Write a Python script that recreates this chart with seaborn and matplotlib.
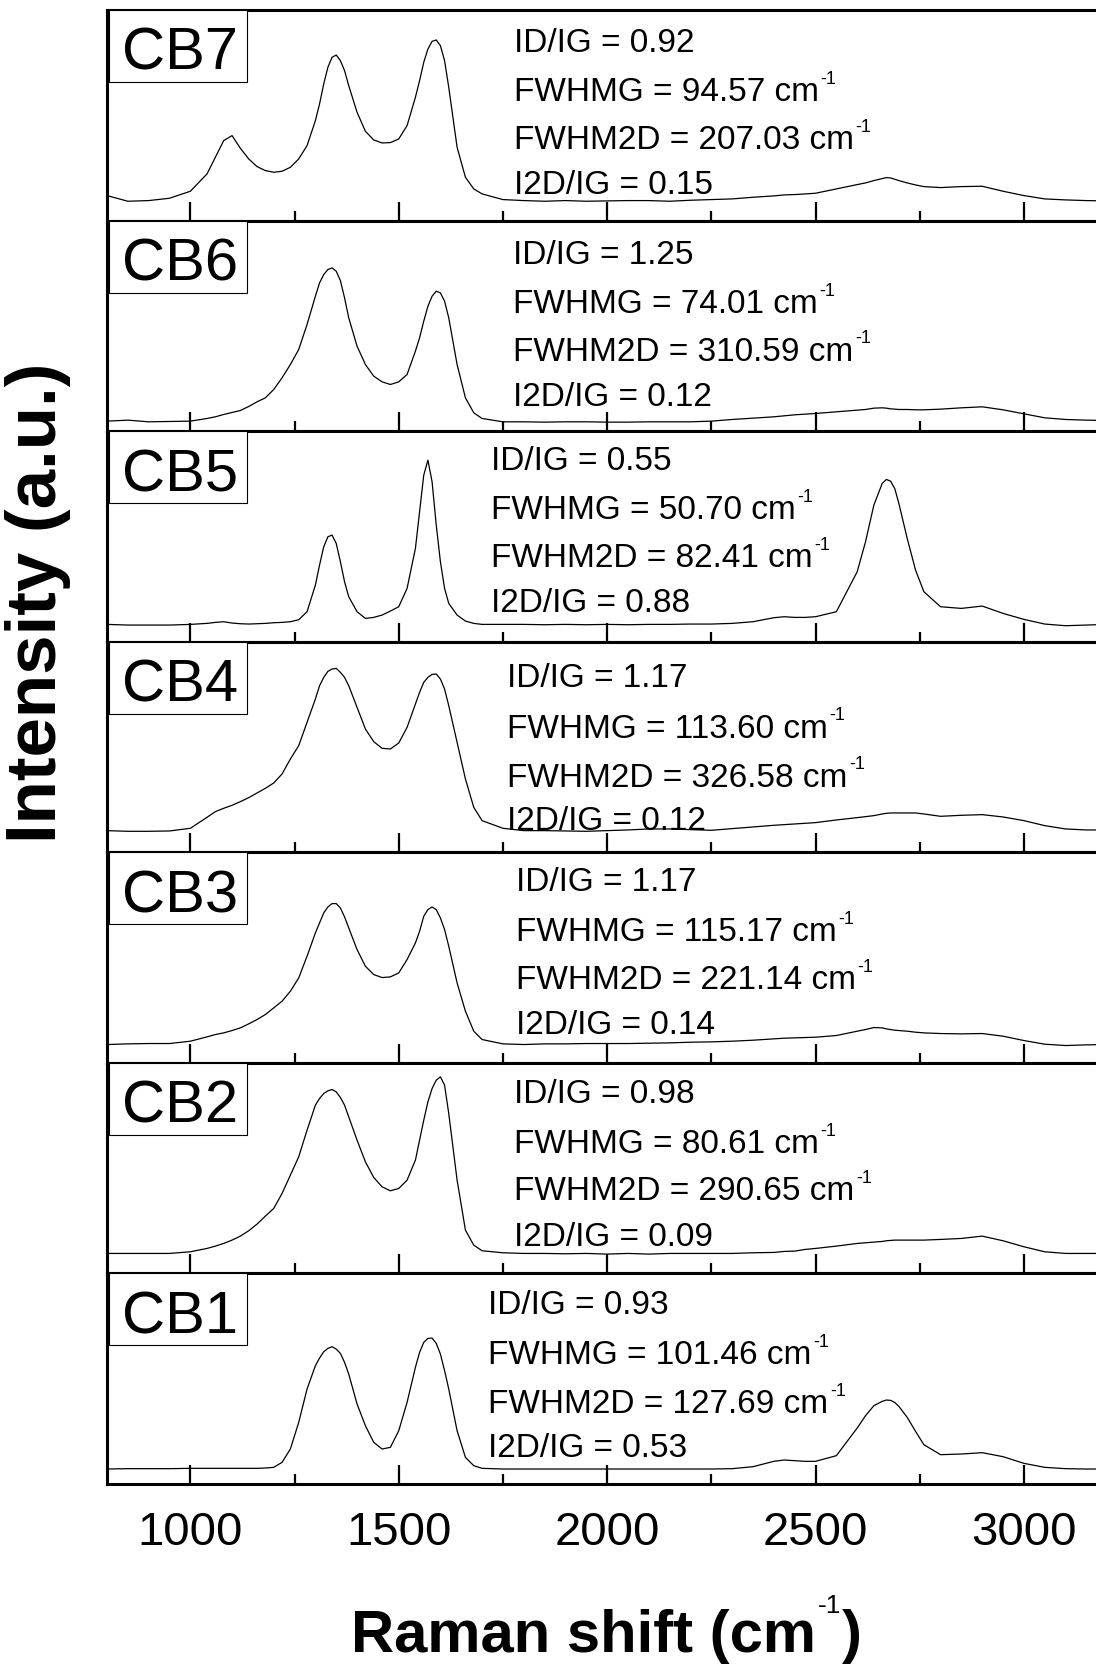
import matplotlib
matplotlib.use("Agg")
import matplotlib.pyplot as plt
import matplotlib.transforms as mtransforms
from matplotlib.patches import Rectangle
from matplotlib.ticker import MultipleLocator
import pandas as pd
import seaborn as sns

# Raman shift grid (cm^-1) shared by all spectra
raman_shift = [800, 850, 900, 950, 1000,
               1040, 1060, 1080, 1100, 1120, 1140, 1160, 1180, 1200, 1220, 1240, 1260, 1280, 1300,
               1310, 1320, 1330, 1340, 1350, 1360, 1370, 1380,
               1400, 1420, 1440, 1460, 1480, 1500, 1520, 1540,
               1550, 1560, 1570, 1580, 1590, 1600, 1610, 1620,
               1640, 1660, 1680, 1700,
               1750, 1800, 1850, 1900, 1950, 2000, 2050, 2100, 2150, 2200, 2250, 2300, 2350, 2400,
               2425, 2450, 2475, 2500,
               2550, 2600,
               2620, 2640, 2660,
               2670, 2680, 2690, 2700,
               2720, 2740, 2760,
               2800, 2850, 2900, 2950, 3000, 3050, 3100, 3150, 3200]

# Intensities (a.u.) per sample
cb7 = [75, 58, 60, 67, 88,
       140, 190, 240, 255, 217, 185, 162, 150, 145, 148, 160, 185, 225, 300,
       350, 410, 460, 490, 497, 480, 450, 405,
       325, 268, 242, 233, 234, 245, 285, 370,
       420, 475, 515, 538, 542, 525, 480, 400,
       220, 130, 95, 80,
       63, 60, 58, 60, 58, 59, 60, 60, 58, 61, 63, 65, 70, 74,
       77, 78, 80, 82,
       95, 108,
       113, 120, 126,
       129, 128, 124, 120,
       113, 107, 102,
       99, 102, 103, 88, 75, 65, 62, 60, 59]

cb6 = [30, 33, 28, 29, 30,
       38, 43, 50, 56, 62, 74, 88, 100, 125, 160, 200, 245, 320, 405,
       445, 470, 485, 490, 480, 452, 400, 340,
       255, 200, 165, 148, 140, 148, 170, 240,
       280, 330, 375, 405, 420, 415, 390, 340,
       200, 100, 55, 38,
       28, 28, 27, 28, 28, 27, 27, 28, 28, 28, 30, 35, 39, 43,
       46, 49, 51, 53,
       58, 63,
       65, 69, 70,
       69, 67, 66, 65,
       65, 64, 64,
       66, 70, 73, 64, 52, 40, 35, 33, 32]

cb5 = [52, 50, 50, 50, 52,
       55, 58, 60, 56, 54, 53, 54, 55, 57, 58, 60, 66, 90, 170,
       230, 285, 315, 320, 295, 240, 180, 135,
       90, 70, 73, 80, 92, 105, 160, 280,
       390, 500, 545, 480, 350, 240, 160, 115,
       80, 62, 55, 52,
       52, 52, 51, 52, 51, 52, 51, 52, 52, 53, 53, 55, 60, 72,
       75, 73, 73, 75,
       90, 210,
       300, 410, 475,
       487, 482, 460, 415,
       310, 215, 150,
       105, 100, 107, 85, 67, 53, 48, 50, 52]

cb4 = [65, 63, 63, 64, 72,
       105, 122, 132, 141, 152, 164, 178, 192, 208, 235, 280, 320, 390, 460,
       500, 525, 543, 550, 552, 540, 525, 500,
       435, 370, 332, 312, 310, 328, 375, 445,
       480, 510, 525, 534, 535, 520, 490, 440,
       330, 220, 135, 95,
       72, 65, 65, 64, 63, 65, 67, 70, 70, 68, 66, 71, 76, 81,
       83, 85, 87, 89,
       97, 104,
       107, 110, 115,
       117, 118, 118, 118,
       118, 118, 115,
       108, 111, 113, 106, 95, 80, 70, 67, 67]

cb3 = [55, 57, 58, 58, 65,
       78, 85, 90, 97, 105, 117, 130, 145, 165, 185, 215, 255, 320, 390,
       420, 450, 468, 478, 478, 465, 438, 405,
       340, 290, 265, 256, 258, 270, 310, 360,
       395, 440, 460, 468, 460, 435, 400, 350,
       240, 155, 95, 70,
       57, 55, 57, 57, 58, 58, 58, 59, 60, 62, 63, 65, 68, 72,
       74, 75, 76, 77,
       82, 95,
       100, 106, 105,
       102, 100, 98, 97,
       95, 92, 90,
       88, 87, 88, 80, 67, 56, 52, 54, 55]

cb2 = [60, 60, 60, 60, 65,
       75, 82, 90, 100, 112, 128, 148, 172, 195, 240, 295, 350, 430, 505,
       525, 540, 548, 552, 545, 528, 505, 470,
       400, 335, 288, 260, 248, 255, 280, 340,
       400, 460, 515, 555, 580, 590, 565, 480,
       280, 130, 85, 68,
       62, 60, 60, 59, 60, 58, 60, 58, 60, 60, 60, 60, 62, 63,
       66, 67, 72, 75,
       82, 90,
       92, 94, 96,
       98, 99, 100, 100,
       100, 100, 100,
       102, 105, 112, 98, 80, 65, 60, 60, 60]

cb1 = [45, 46, 46, 46, 47,
       47, 47, 47, 47, 47, 47, 47, 48, 50, 65, 105, 185, 285, 355,
       378, 397, 407, 412, 405, 392, 365, 330,
       240, 175, 125, 105, 110, 160, 245, 350,
       395, 425, 437, 438, 422, 390, 340, 285,
       160, 80, 55, 47,
       45, 45, 45, 45, 45, 45, 45, 45, 45, 45, 45, 46, 52, 68,
       72, 70, 68, 68,
       85, 168,
       205, 235, 248,
       252, 251, 245, 233,
       200, 158, 118,
       88, 90, 94, 82, 62, 50, 46, 45, 45]

samples = ["CB7", "CB6", "CB5", "CB4", "CB3", "CB2", "CB1"]
spectra = [cb7, cb6, cb5, cb4, cb3, cb2, cb1]

id_ig = ["0.92", "1.25", "0.55", "1.17", "1.17", "0.98", "0.93"]
fwhm_g = ["94.57", "74.01", "50.70", "113.60", "115.17", "80.61", "101.46"]
fwhm_2d = ["207.03", "310.59", "82.41", "326.58", "221.14", "290.65", "127.69"]
i2d_ig = ["0.15", "0.12", "0.88", "0.12", "0.14", "0.09", "0.53"]

# Annotation placement: left edge (cm^-1) and line centres (px below panel top)
note_x = [1777, 1775, 1722, 1760, 1782, 1777, 1715]
note_rows = [[29.5, 78, 126, 171],
             [30.5, 79.5, 127, 172],
             [25.5, 75, 123, 168],
             [32, 83, 132, 175],
             [26, 76, 123.5, 169],
             [27.5, 77, 124.5, 170],
             [28, 78, 127, 171]]

frames = [pd.DataFrame({"shift": raman_shift, "intensity": vals, "sample": name})
          for name, vals in zip(samples, spectra)]
data = pd.concat(frames, ignore_index=True)

sns.set_theme(style="white")
plt.rcParams["font.family"] = ["Liberation Sans", "DejaVu Sans"]
plt.rcParams["text.color"] = "black"
plt.rcParams["axes.labelcolor"] = "black"
plt.rcParams["xtick.color"] = "black"
plt.rcParams["ytick.color"] = "black"


def with_superscript(ax, main, x, y, transform, size, sup="-1", sup_size=13, raise_pt=4.5,
                     weight="normal", after=None, **kw):
    """Draw `main`, then a small raised `sup` and optional trailing text."""
    t = ax.text(x, y, main, transform=transform, fontsize=size, fontweight=weight,
                ha="left", va="baseline", color="black", **kw)
    s = ax.annotate(sup, xy=(1, 1), xycoords=t, xytext=(1.0, raise_pt),
                    textcoords="offset points", fontsize=sup_size, ha="left", va="top",
                    color="black", **kw)
    if after:
        ax.annotate(after, xy=(1, 0), xycoords=(s, t), xytext=(0.5, 0),
                    textcoords="offset points", fontsize=size, fontweight=weight,
                    ha="left", va="bottom", color="black", **kw)
    return t


W, H = 1096, 1665
fig = plt.figure(figsize=(W / 100, H / 100), dpi=100)
fig.patch.set_facecolor("white")

left_px, top_px, bottom_px = 107, 11, 1485
panel_px = (bottom_px - top_px) / len(samples)
axes_w_px = W - left_px

for i, name in enumerate(samples):
    y0 = top_px + i * panel_px
    ax = fig.add_axes([left_px / W, 1 - (y0 + panel_px) / H, axes_w_px / W, panel_px / H])
    ax.set_facecolor("white")
    sns.lineplot(data=data[data["sample"] == name], x="shift", y="intensity", ax=ax,
                 color="black", linewidth=0.9, estimator=None, sort=False, legend=False)
    ax.set_xlim(800, 3173)
    ax.set_ylim(0, 632)
    ax.set_xlabel("")
    ax.set_ylabel("")
    ax.set_yticks([])

    for side in ("left", "top", "bottom"):
        ax.spines[side].set_visible(True)
        ax.spines[side].set_linewidth(2.2)
        ax.spines[side].set_color("black")
    ax.spines["right"].set_visible(False)

    ax.xaxis.set_major_locator(MultipleLocator(500))
    ax.xaxis.set_minor_locator(MultipleLocator(250))
    ax.tick_params(axis="x", which="major", direction="in", length=14, width=1.6,
                   bottom=True, top=False, color="black", labelcolor="black",
                   labelsize=34, pad=19, labelbottom=(i == len(samples) - 1))
    ax.tick_params(axis="x", which="minor", direction="in", length=7, width=1.6,
                   bottom=True, top=False, color="black")

    # sample label box
    box_h = 72 / panel_px
    ax.add_patch(Rectangle((2 / axes_w_px, 1 - box_h), 138 / axes_w_px, box_h,
                           transform=ax.transAxes, facecolor="white", edgecolor="black",
                           linewidth=0.8, zorder=4, clip_on=False))
    ax.text(15 / axes_w_px, 1 - 59 / panel_px, name, transform=ax.transAxes,
            fontsize=43, ha="left", va="baseline", color="black", zorder=5)

    # fitted parameters
    trans = mtransforms.blended_transform_factory(ax.transData, ax.transAxes)
    rows = note_rows[i]
    ys = [1 - (yc + 12) / panel_px for yc in rows]
    ax.text(note_x[i], ys[0], f"ID/IG = {id_ig[i]}", transform=trans,
            fontsize=24, ha="left", va="baseline", color="black", zorder=5)
    with_superscript(ax, f"FWHMG = {fwhm_g[i]} cm", note_x[i], ys[1], trans, 24, zorder=5)
    with_superscript(ax, f"FWHM2D = {fwhm_2d[i]} cm", note_x[i], ys[2], trans, 24, zorder=5)
    ax.text(note_x[i], ys[3], f"I2D/IG = {i2d_ig[i]}", transform=trans,
            fontsize=24, ha="left", va="baseline", color="black", zorder=5)

# axis titles
label_ax = fig.add_axes([0, 0, 1, 1], facecolor="none")
label_ax.set_axis_off()
label_ax.set_zorder(10)
with_superscript(label_ax, "Raman shift (cm", 351 / W, 1 - 1652 / H, label_ax.transAxes, 43,
                 sup_size=19, raise_pt=11, weight="bold", after=")")
fig.text(38 / W, 1 - 603 / H, "Intensity (a.u.)", fontsize=51, fontweight="bold",
         rotation=90, ha="center", va="center", color="black")

fig.savefig("out.png", dpi=100, facecolor="white")
